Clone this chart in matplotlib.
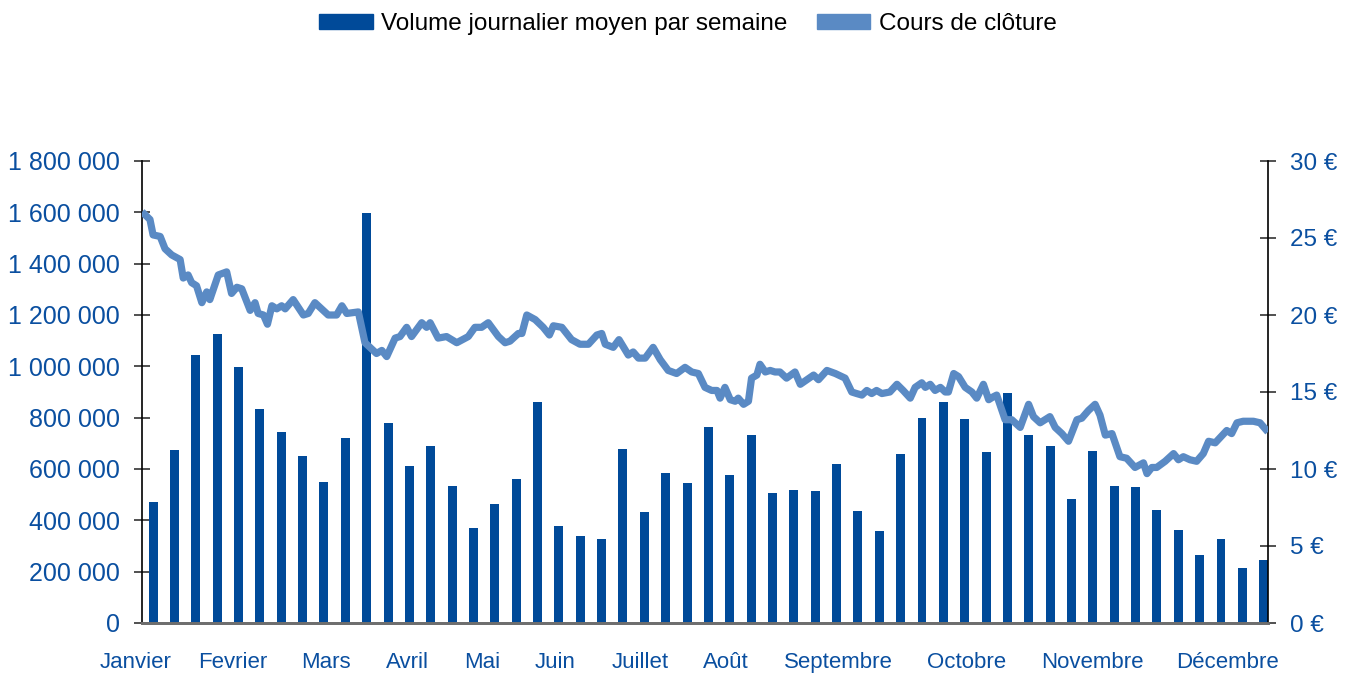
import matplotlib.pyplot as plt
import matplotlib.ticker as mticker
import matplotlib.transforms as mtransforms
from matplotlib.patches import Patch
import numpy as np

plt.rcParams['font.family'] = ['Liberation Sans', 'DejaVu Sans']

# Volume journalier moyen par semaine (53 semaines)
volumes = [471000, 674000, 1044000, 1126000, 997000, 834000, 744000, 651000, 549000, 721000,
           1597000, 779000, 612000, 690000, 534000, 370000, 464000, 561000, 861000, 378000,
           339000, 327000, 678000, 432000, 584000, 545000, 764000, 577000, 732000, 506000,
           518000, 514000, 619000, 436000, 358000, 658000, 799000, 861000, 795000, 666000,
           896000, 732000, 690000, 483000, 670000, 534000, 530000, 440000, 362000, 265000,
           327000, 214000, 245000]

# Cours de clôture (jour de bourse 0..254, valeur en euros)
jours = [0, 1.8, 2.5, 4.1, 5.2, 6.7, 8.6, 9.3, 10.4, 11.2, 12.3, 13.5, 14.6, 15.3, 17.2, 19.1,
         20.2, 21.4, 22.5, 24.4, 25.5, 26.2, 27.4, 28.3, 29.3, 30.4, 31.5, 32.3, 34.1, 36.4,
         37.5, 39.0, 40.5, 42.0, 43.9, 45.1, 46.2, 48.8, 50.3, 52.9, 54.1, 55.2, 57.1, 58.2,
         59.7, 60.8, 63.1, 64.2, 65.0, 66.8, 68.7, 71.0, 73.6, 75.1, 76.6, 78.1, 80.4, 81.9,
         83.0, 84.9, 85.7, 86.8, 88.7, 90.5, 91.9, 92.8, 94.7, 96.9, 98.8, 100.7, 102.6, 103.7,
         104.5, 106.3, 107.6, 109.7, 110.8, 112.0, 113.5, 115.3, 116.9, 118.7, 120.6, 122.5,
         124.0, 125.5, 127.0, 128.5, 129.7, 130.4, 131.5, 132.7, 133.8, 134.5, 135.7, 136.8,
         137.5, 138.7, 139.4, 140.6, 141.7, 142.8, 143.9, 145.4, 147.3, 148.5, 150.0, 151.5,
         152.6, 154.5, 156.4, 158.6, 160.1, 161.2, 162.4, 163.5, 164.6, 165.7, 166.9, 168.7,
         170.3, 171.7, 173.3, 174.4, 175.9, 176.7, 177.8, 178.9, 180.1, 181.2, 181.9, 183.1,
         184.2, 185.7, 187.2, 188.3, 189.8, 191.0, 192.1, 192.8, 194.7, 196.2, 198.1, 200.0,
         201.1, 202.6, 204.8, 206.0, 207.5, 209.0, 210.9, 212.0, 213.5, 215.0, 216.1, 217.3,
         218.8, 220.6, 222.1, 224.0, 225.9, 226.7, 227.8, 228.9, 230.8, 232.7, 233.8, 234.9,
         236.4, 237.9, 239.4, 240.6, 242.1, 244.7, 245.8, 247.0, 248.4, 250.7, 252.2, 254.0]
cours = [26.7, 26.2, 25.2, 25.1, 24.3, 23.9, 23.6, 22.4, 22.6, 22.1, 21.9, 20.8, 21.5, 21.0, 22.6, 22.8,
         21.4, 21.8, 21.7, 20.3, 20.8, 20.1, 20.0, 19.4, 20.6, 20.4, 20.6, 20.4, 21.0, 20.0,
         20.1, 20.8, 20.4, 20.0, 20.0, 20.6, 20.1, 20.2, 18.2, 17.5, 17.7, 17.3, 18.5, 18.6,
         19.2, 18.6, 19.5, 19.2, 19.5, 18.5, 18.6, 18.2, 18.6, 19.2, 19.2, 19.5, 18.6, 18.2,
         18.3, 18.8, 18.8, 20.0, 19.7, 19.2, 18.7, 19.3, 19.2, 18.4, 18.1, 18.1, 18.7, 18.8,
         18.1, 17.9, 18.4, 17.4, 17.6, 17.2, 17.2, 17.9, 17.1, 16.4, 16.2, 16.6,
         16.3, 16.2, 15.3, 15.1, 15.1, 14.6, 15.3, 14.5, 14.4, 14.6, 14.2, 14.4,
         15.9, 16.1, 16.8, 16.3, 16.4, 16.3, 16.3, 15.9, 16.3, 15.5, 15.8, 16.1,
         15.8, 16.4, 16.2, 15.9, 15.0, 14.9, 14.8, 15.1, 14.9, 15.1, 14.9, 15.0,
         15.5, 15.1, 14.6, 15.3, 15.6, 15.3, 15.5, 15.1, 15.3, 15.0, 15.0, 16.2,
         16.0, 15.3, 15.0, 14.6, 15.5, 14.5, 14.7, 14.8, 13.2, 13.2, 12.7, 14.2,
         13.4, 13.0, 13.4, 12.7, 12.3, 11.8, 13.2, 13.3, 13.8, 14.2, 13.5, 12.2,
         12.3, 10.8, 10.7, 10.1, 10.4, 9.7, 10.1, 10.1, 10.5, 11.0, 10.6, 10.8,
         10.6, 10.5, 11.0, 11.8, 11.7, 12.5, 12.3, 13.0, 13.1, 13.1, 13.0, 12.4]

mois = ['Janvier', 'Fevrier', 'Mars', 'Avril', 'Mai', 'Juin', 'Juillet', 'Août',
        'Septembre', 'Octobre', 'Novembre', 'Décembre']
mois_pos = [-0.84, 3.75, 8.1, 11.9, 15.4, 18.8, 22.8, 26.8, 32.1, 38.1, 44.0, 50.3]

BAR_COLOR = '#004a99'
LINE_COLOR = '#5a8ac4'
TXT_COLOR = '#0a4fa0'

x_left, x_right = -0.52, 52.2

fig = plt.figure(figsize=(13.53, 6.73), dpi=100)
ax = fig.add_axes([142 / 1353, 1 - 623 / 673, 1126 / 1353, 462 / 673])

x = np.arange(len(volumes))
ax.bar(x, volumes, width=0.42, color=BAR_COLOR, zorder=2)
ax.set_xlim(x_left, x_right)
ax.set_ylim(0, 1800000)
ax.yaxis.set_major_locator(mticker.MultipleLocator(200000))
ax.yaxis.set_major_formatter(mticker.FuncFormatter(lambda v, p: f'{int(v):,}'.replace(',', ' ')))

ax2 = ax.twinx()
jx = x_left + np.array(jours) / 254 * (x_right - x_left)
ax2.plot(jx, cours, color=LINE_COLOR, lw=5.2, solid_joinstyle='round', solid_capstyle='butt', zorder=3)
ax2.set_ylim(0, 30)
ax2.yaxis.set_major_locator(mticker.MultipleLocator(5))
ax2.yaxis.set_major_formatter(mticker.FuncFormatter(lambda v, p: f'{int(v)} €'))

for a in (ax, ax2):
    a.spines['top'].set_visible(False)
    a.spines['bottom'].set_color('#6e6e6e')
    a.spines['bottom'].set_linewidth(2)
    a.spines['left'].set_linewidth(1.2)
    a.spines['right'].set_linewidth(1.2)

ax.spines['right'].set_visible(False)
ax2.spines['left'].set_visible(False)

ax.tick_params(axis='y', direction='inout', length=12, width=1.2, pad=10,
               labelsize=18, labelcolor=TXT_COLOR, color='#333333')
ax2.tick_params(axis='y', direction='inout', length=12, width=1.2, pad=10,
                labelsize=17.5, labelcolor=TXT_COLOR, color='#333333')

# libellés des mois (placés en texte pour éviter le filtrage hors limites)
ax.set_xticks([])
trans = mtransforms.blended_transform_factory(ax.transData, ax.transAxes)
for p, m in zip(mois_pos, mois):
    ax.text(p, -0.086, m, transform=trans, ha='center', va='center',
            fontsize=16, color=TXT_COLOR, clip_on=False)

handles = [Patch(color=BAR_COLOR, label='Volume journalier moyen par semaine'),
           Patch(color=LINE_COLOR, label='Cours de clôture')]
fig.legend(handles=handles, loc='center', bbox_to_anchor=(0.5085, 0.964), ncol=2,
           frameon=False, fontsize=17.5, handlelength=2.2, handleheight=0.58,
           handletextpad=0.35, columnspacing=1.2)

fig.savefig('out.png', dpi=100)
